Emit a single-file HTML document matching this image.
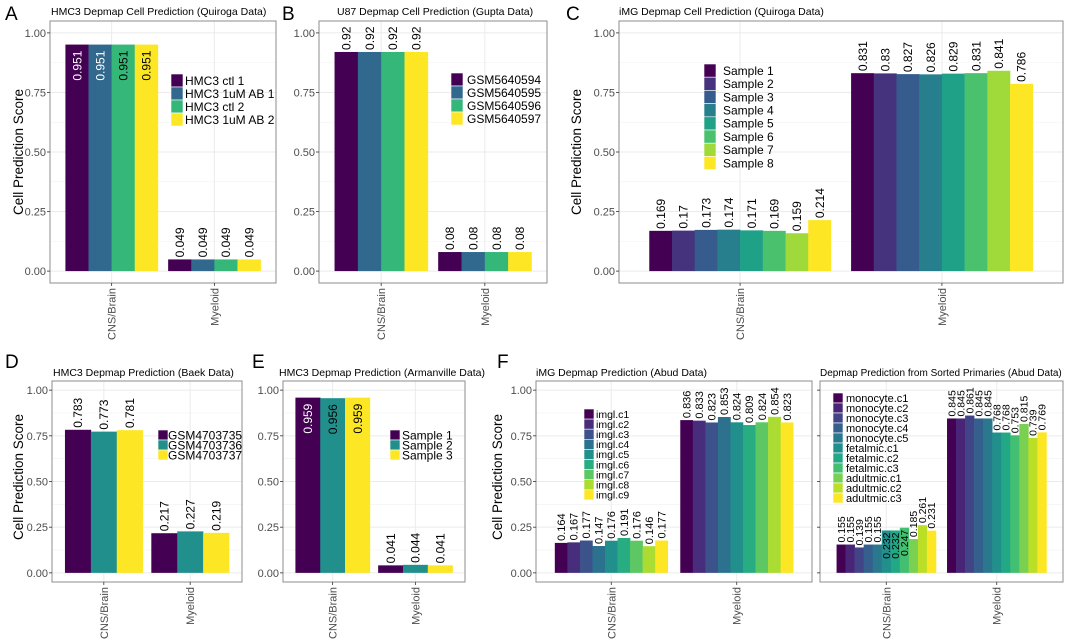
<!DOCTYPE html>
<html><head><meta charset="utf-8"><style>
html,body{margin:0;padding:0;background:#fff;}
svg{display:block;font-family:"Liberation Sans",sans-serif;}
</style></head><body>
<svg id="fig" width="1065" height="643" viewBox="0 0 1065 643" xmlns="http://www.w3.org/2000/svg"></svg>
<script>
// ---- data ----
const categories = ["CNS/Brain", "Myeloid"];
const aSeries = ["HMC3 ctl 1", "HMC3 1uM AB 1", "HMC3 ctl 2", "HMC3 1uM AB 2"];
const aCns = [0.951, 0.951, 0.951, 0.951];
const aMye = [0.049, 0.049, 0.049, 0.049];
const aLabelsCns = ["0.951","0.951","0.951","0.951"];
const aLabelsMye = ["0.049","0.049","0.049","0.049"];
const bSeries = ["GSM5640594", "GSM5640595", "GSM5640596", "GSM5640597"];
const bCns = [0.92, 0.92, 0.92, 0.92];
const bMye = [0.08, 0.08, 0.08, 0.08];
const bLabelsCns = ["0.92","0.92","0.92","0.92"];
const bLabelsMye = ["0.08","0.08","0.08","0.08"];
const cSeries = ["Sample 1","Sample 2","Sample 3","Sample 4","Sample 5","Sample 6","Sample 7","Sample 8"];
const cCns = [0.169, 0.17, 0.173, 0.174, 0.171, 0.169, 0.159, 0.214];
const cMye = [0.831, 0.83, 0.827, 0.826, 0.829, 0.831, 0.841, 0.786];
const cLabelsCns = ["0.169","0.17","0.173","0.174","0.171","0.169","0.159","0.214"];
const cLabelsMye = ["0.831","0.83","0.827","0.826","0.829","0.831","0.841","0.786"];
const dSeries = ["GSM4703735","GSM4703736","GSM4703737"];
const dCns = [0.783, 0.773, 0.781];
const dMye = [0.217, 0.227, 0.219];
const dLabelsCns = ["0.783","0.773","0.781"];
const dLabelsMye = ["0.217","0.227","0.219"];
const eSeries = ["Sample 1","Sample 2","Sample 3"];
const eCns = [0.959, 0.956, 0.959];
const eMye = [0.041, 0.044, 0.041];
const eLabelsCns = ["0.959","0.956","0.959"];
const eLabelsMye = ["0.041","0.044","0.041"];
const fSeries = ["imgl.c1","imgl.c2","imgl.c3","imgl.c4","imgl.c5","imgl.c6","imgl.c7","imgl.c8","imgl.c9"];
const fCns = [0.164, 0.167, 0.177, 0.147, 0.176, 0.191, 0.176, 0.146, 0.177];
const fMye = [0.836, 0.833, 0.823, 0.853, 0.824, 0.809, 0.824, 0.854, 0.823];
const fLabelsCns = ["0.164","0.167","0.177","0.147","0.176","0.191","0.176","0.146","0.177"];
const fLabelsMye = ["0.836","0.833","0.823","0.853","0.824","0.809","0.824","0.854","0.823"];
const gSeries = ["monocyte.c1","monocyte.c2","monocyte.c3","monocyte.c4","monocyte.c5","fetalmic.c1","fetalmic.c2","fetalmic.c3","adultmic.c1","adultmic.c2","adultmic.c3"];
const gCns = [0.155, 0.155, 0.139, 0.155, 0.155, 0.232, 0.232, 0.247, 0.185, 0.261, 0.231];
const gMye = [0.845, 0.845, 0.861, 0.845, 0.845, 0.768, 0.768, 0.753, 0.815, 0.739, 0.769];
const gLabelsCns = ["0.155","0.155","0.139","0.155","0.155","0.232","0.232","0.247","0.185","0.261","0.231"];
const gLabelsMye = ["0.845","0.845","0.861","0.845","0.845","0.768","0.768","0.753","0.815","0.739","0.769"];
const yTicks = [0, 0.25, 0.5, 0.75, 1.0];
const yTickLabels = ["0.00","0.25","0.50","0.75","1.00"];

const PAL = {
 3:["#440154","#21908C","#FDE725"],
 4:["#440154","#31688E","#35B779","#FDE725"],
 8:["#440154","#46337E","#365C8D","#277F8E","#1FA187","#4AC16D","#9FDA3A","#FDE725"],
 9:["#440154","#472D7B","#3B528B","#2C728E","#21908C","#27AD81","#5DC863","#AADC32","#FDE725"],
 11:["#440154","#482576","#414487","#35608D","#2A788E","#21908C","#22A884","#43BF71","#7AD151","#BBDF27","#FDE725"]
};
const NS = "http://www.w3.org/2000/svg";
const svg = document.getElementById("fig");
function mk(tag, attrs, parent, txt){
  const e = document.createElementNS(NS, tag);
  for (const k in attrs) e.setAttribute(k, attrs[k]);
  if (txt !== undefined) e.textContent = txt;
  (parent||svg).appendChild(e);
  return e;
}
function dark(c){const r=parseInt(c.substr(1,2),16),g=parseInt(c.substr(3,2),16),b=parseInt(c.substr(5,2),16);return (0.299*r+0.587*g+0.114*b)<100;}

function panel(o){
  const g = mk("g", {});
  
  
  const [x0,x1,yT,yB] = o.box;
  const y = v => yB - (v+0.05)/1.1*(yB-yT);
  const x = p => x0 + (p-0.4)/2.2*(x1-x0);
  const pal = PAL[o.series.length];
  for (let i=0;i<yTicks.length;i++){
    const gl = mk("line",{x1:x0,x2:x1,y1:y(yTicks[i]),y2:y(yTicks[i]),stroke:"#ebebeb","stroke-width":1},g);
    
    
    if (i<yTicks.length-1){
      const m=(yTicks[i]+yTicks[i+1])/2;
      mk("line",{x1:x0,x2:x1,y1:y(m),y2:y(m),stroke:"#f4f4f4","stroke-width":0.7},g);
    }
  }
  categories.forEach((c,ci)=>{
    const gl = mk("line",{x1:x(ci+1),x2:x(ci+1),y1:yT,y2:yB,stroke:"#ebebeb","stroke-width":1},g);
    
    
  });
  const groups = [[o.cns,o.labCns],[o.mye,o.labMye]];
  const n = o.series.length;
  groups.forEach(([vals,labs],ci)=>{
    const bw = (x(ci+1.45)-x(ci+0.55))/n;
    vals.forEach((v,si)=>{
      const bx = x(ci+0.55)+si*bw;
      const r = mk("rect",{x:bx,y:y(v),width:bw+0.3,height:y(0)-y(v),fill:pal[si]},g);
      
      
      const cx = bx+bw/2+o.lfs*0.36;
      const high = v>0.94;
      const insideLow = o.insideIdx && ci===0 && o.insideIdx.includes(si);
      let ty, anchor, fill="#000";
      if (high){ ty = y(v)+6; anchor="end"; if (dark(pal[si])) fill="#fff"; }
      else if (insideLow){ ty = y(v)+2; anchor="end"; }
      else { ty = y(v)-2; anchor="start"; }
      const t = mk("text",{x:cx,y:ty,transform:`rotate(-90 ${cx} ${ty})`,"text-anchor":anchor,"font-size":o.lfs,fill:fill},g,labs[si]);
      
      
    });
  });
  const bx = mk("rect",{x:x0,y:yT,width:x1-x0,height:yB-yT,fill:"none",stroke:"#8c8c8c","stroke-width":1},g);
  
  
  yTicks.forEach((v,i)=>{
    mk("line",{x1:x0-3,x2:x0,y1:y(v),y2:y(v),stroke:"#333","stroke-width":0.8},g);
    if (o.yLabels){
      const t = mk("text",{x:x0-4,y:y(v)+4,"text-anchor":"end","font-size":11,fill:"#4d4d4d"},g,yTickLabels[i]);
      
      
    }
  });
  categories.forEach((c,ci)=>{
    const cx=x(ci+1);
    mk("line",{x1:cx,x2:cx,y1:yB,y2:yB+3,stroke:"#333","stroke-width":0.8},g);
    const tx=cx+4, ty=yB+5;
    const t = mk("text",{x:tx,y:ty,transform:`rotate(-90 ${tx} ${ty})`,"text-anchor":"end","font-size":11,fill:"#4d4d4d"},g,c);
    
    
  });
  const tt = mk("text",{x:o.title[1],y:o.title[2],"font-size":o.tfs||10.5,fill:"#000"},g,o.title[0]);
  
  
  if (o.letter){
    const L = mk("text",{x:o.letter[1],y:o.letter[2],"font-size":19,fill:"#000"},g,o.letter[0]);
    
    
  }
  if (o.ytitle){
    const [tx,ty]=o.ytitle;
    const t = mk("text",{x:tx,y:ty,transform:`rotate(-90 ${tx} ${ty})`,"text-anchor":"middle","font-size":13.5,fill:"#000"},g,"Cell Prediction Score");
    
    
  }
  if (o.legend){
    const [lx,ly,kw,rh,fs,tx] = o.legend;
    const lg = mk("g",{},g);
    
    
    o.series.forEach((s,si)=>{
      const e = mk("g",{},lg);
      
      
      mk("rect",{x:lx,y:ly+si*rh,width:kw,height:rh,fill:pal[si],stroke:"#fff","stroke-width":0.6},e);
      mk("text",{x:tx,y:ly+si*rh+rh*0.5+fs*0.36,"font-size":fs,fill:"#000"},e,s);
    });
  }
}

panel({name:"panel-a",box:[50,276,21,283],series:aSeries,cns:aCns,mye:aMye,labCns:aLabelsCns,labMye:aLabelsMye,lfs:12,yLabels:true,
  title:["HMC3 Depmap Cell Prediction (Quiroga Data)",51,15],letter:["A",5,20],ytitle:[23,152],legend:[171,74,12,13,12,185]});
panel({name:"panel-b",box:[319,547,21,283],series:bSeries,cns:bCns,mye:bMye,labCns:bLabelsCns,labMye:bLabelsMye,lfs:12,yLabels:true,
  title:["U87 Depmap Cell Prediction (Gupta Data)",337,15],letter:["B",282,20],legend:[451,73,12,13,12,467]});
panel({name:"panel-c",box:[619,1063,21,283],series:cSeries,cns:cCns,mye:cMye,labCns:cLabelsCns,labMye:cLabelsMye,lfs:12,yLabels:true,
  title:["iMG Depmap Cell Prediction (Quiroga Data)",619,15],letter:["C",566,20],ytitle:[581,152],legend:[704,64,12,13.2,12,723]});
panel({name:"panel-d",box:[52,242,381,582],series:dSeries,cns:dCns,mye:dMye,labCns:dLabelsCns,labMye:dLabelsMye,lfs:12,yLabels:true,
  title:["HMC3 Depmap Prediction (Baek Data)",53,376],letter:["D",5,368],ytitle:[23,477],legend:[158,430,10,10,12,168]});
panel({name:"panel-e",box:[283,465,381,582],series:eSeries,cns:eCns,mye:eMye,labCns:eLabelsCns,labMye:eLabelsMye,lfs:12,yLabels:true,
  title:["HMC3 Depmap Prediction (Armanville Data)",279,376],letter:["E",252,368],legend:[390,430,10,10,12,402]});
panel({name:"panel-f-left",box:[536,812,381,582],series:fSeries,cns:fCns,mye:fMye,labCns:fLabelsCns,labMye:fLabelsMye,lfs:11,yLabels:true,
  title:["iMG Depmap Prediction (Abud Data)",536,376],letter:["F",497,368],ytitle:[502,477],legend:[584,409,10,10.1,10.5,596]});
panel({name:"panel-f-right",box:[820,1063,381,582],series:gSeries,cns:gCns,mye:gMye,labCns:gLabelsCns,labMye:gLabelsMye,lfs:10.5,yLabels:false,insideIdx:[5,6,7],tfs:10,
  title:["Depmap Prediction from Sorted Primaries (Abud Data)",820,376],legend:[833,393,10,10,11,846]});
</script>
</body></html>
